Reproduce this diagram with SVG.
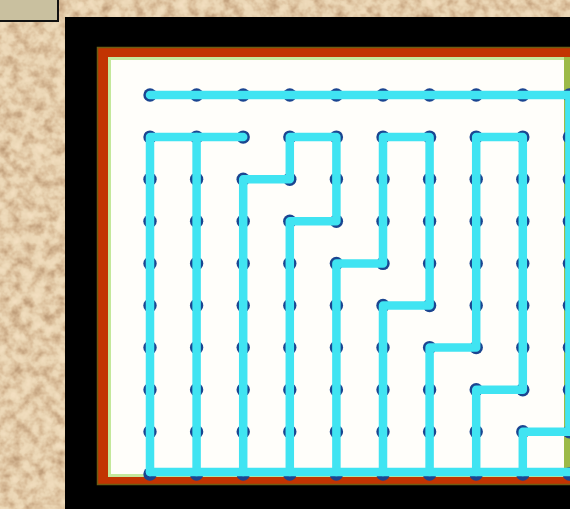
<svg xmlns="http://www.w3.org/2000/svg" width="570" height="509" viewBox="0 0 570 509">
  <defs>
    <filter id="sand" x="0" y="0" width="100%" height="100%" color-interpolation-filters="sRGB">
      <feTurbulence type="fractalNoise" baseFrequency="0.09" numOctaves="3" seed="7" result="n"/>
      <feColorMatrix in="n" type="matrix" values="1 0 0 0 0  1 0 0 0 0  1 0 0 0 0  0 0 0 0 1" result="g"/>
      <feComponentTransfer in="g">
        <feFuncR type="table" tableValues="0.70 0.77 0.86 0.92 0.95 0.97"/>
        <feFuncG type="table" tableValues="0.57 0.64 0.75 0.84 0.87 0.89"/>
        <feFuncB type="table" tableValues="0.43 0.50 0.61 0.71 0.75 0.78"/>
      </feComponentTransfer>
    </filter>
    <style>
      .wire { fill: none; stroke: #40e4f2; stroke-width: 8.5; stroke-linecap: round; stroke-linejoin: round; }
      .dot { fill: #1b4590; }
    </style>
  </defs>

  <!-- sand background -->
  <rect x="0" y="0" width="570" height="509" fill="#e6cfae" filter="url(#sand)"/>

  <!-- small khaki box at top-left -->
  <g id="corner-box">
    <rect x="-2" y="-2" width="60" height="23" fill="#c9c09f" stroke="#111" stroke-width="2"/>
  </g>

  <!-- board -->
  <g id="board">
    <rect x="65" y="17" width="505" height="492" fill="#000"/>
    <rect x="97.5" y="47.5" width="485" height="437" fill="#c23402" stroke="#6e5c12" stroke-width="1.5"/>
    <rect x="108" y="57" width="465" height="420" fill="#c4e89c"/>
    <rect x="564" y="57" width="10" height="420" fill="#9cba48"/>
    <rect x="111" y="60" width="453" height="414" fill="#fffefa"/>
  </g>

  <!-- grid dots -->
  <g id="dots">
    <g class="dot">
      <circle cx="150" cy="95" r="6.7"/><circle cx="196.6" cy="95" r="6.7"/><circle cx="243.2" cy="95" r="6.7"/><circle cx="289.8" cy="95" r="6.7"/><circle cx="336.4" cy="95" r="6.7"/><circle cx="383" cy="95" r="6.7"/><circle cx="429.6" cy="95" r="6.7"/><circle cx="476.2" cy="95" r="6.7"/><circle cx="522.8" cy="95" r="6.7"/><circle cx="569.4" cy="95" r="6.7"/>
      <circle cx="150" cy="137.1" r="6.7"/><circle cx="196.6" cy="137.1" r="6.7"/><circle cx="243.2" cy="137.1" r="6.7"/><circle cx="289.8" cy="137.1" r="6.7"/><circle cx="336.4" cy="137.1" r="6.7"/><circle cx="383" cy="137.1" r="6.7"/><circle cx="429.6" cy="137.1" r="6.7"/><circle cx="476.2" cy="137.1" r="6.7"/><circle cx="522.8" cy="137.1" r="6.7"/><circle cx="569.4" cy="137.1" r="6.7"/>
      <circle cx="150" cy="179.2" r="6.7"/><circle cx="196.6" cy="179.2" r="6.7"/><circle cx="243.2" cy="179.2" r="6.7"/><circle cx="289.8" cy="179.2" r="6.7"/><circle cx="336.4" cy="179.2" r="6.7"/><circle cx="383" cy="179.2" r="6.7"/><circle cx="429.6" cy="179.2" r="6.7"/><circle cx="476.2" cy="179.2" r="6.7"/><circle cx="522.8" cy="179.2" r="6.7"/><circle cx="569.4" cy="179.2" r="6.7"/>
      <circle cx="150" cy="221.3" r="6.7"/><circle cx="196.6" cy="221.3" r="6.7"/><circle cx="243.2" cy="221.3" r="6.7"/><circle cx="289.8" cy="221.3" r="6.7"/><circle cx="336.4" cy="221.3" r="6.7"/><circle cx="383" cy="221.3" r="6.7"/><circle cx="429.6" cy="221.3" r="6.7"/><circle cx="476.2" cy="221.3" r="6.7"/><circle cx="522.8" cy="221.3" r="6.7"/><circle cx="569.4" cy="221.3" r="6.7"/>
      <circle cx="150" cy="263.4" r="6.7"/><circle cx="196.6" cy="263.4" r="6.7"/><circle cx="243.2" cy="263.4" r="6.7"/><circle cx="289.8" cy="263.4" r="6.7"/><circle cx="336.4" cy="263.4" r="6.7"/><circle cx="383" cy="263.4" r="6.7"/><circle cx="429.6" cy="263.4" r="6.7"/><circle cx="476.2" cy="263.4" r="6.7"/><circle cx="522.8" cy="263.4" r="6.7"/><circle cx="569.4" cy="263.4" r="6.7"/>
      <circle cx="150" cy="305.5" r="6.7"/><circle cx="196.6" cy="305.5" r="6.7"/><circle cx="243.2" cy="305.5" r="6.7"/><circle cx="289.8" cy="305.5" r="6.7"/><circle cx="336.4" cy="305.5" r="6.7"/><circle cx="383" cy="305.5" r="6.7"/><circle cx="429.6" cy="305.5" r="6.7"/><circle cx="476.2" cy="305.5" r="6.7"/><circle cx="522.8" cy="305.5" r="6.7"/><circle cx="569.4" cy="305.5" r="6.7"/>
      <circle cx="150" cy="347.6" r="6.7"/><circle cx="196.6" cy="347.6" r="6.7"/><circle cx="243.2" cy="347.6" r="6.7"/><circle cx="289.8" cy="347.6" r="6.7"/><circle cx="336.4" cy="347.6" r="6.7"/><circle cx="383" cy="347.6" r="6.7"/><circle cx="429.6" cy="347.6" r="6.7"/><circle cx="476.2" cy="347.6" r="6.7"/><circle cx="522.8" cy="347.6" r="6.7"/><circle cx="569.4" cy="347.6" r="6.7"/>
      <circle cx="150" cy="389.7" r="6.7"/><circle cx="196.6" cy="389.7" r="6.7"/><circle cx="243.2" cy="389.7" r="6.7"/><circle cx="289.8" cy="389.7" r="6.7"/><circle cx="336.4" cy="389.7" r="6.7"/><circle cx="383" cy="389.7" r="6.7"/><circle cx="429.6" cy="389.7" r="6.7"/><circle cx="476.2" cy="389.7" r="6.7"/><circle cx="522.8" cy="389.7" r="6.7"/><circle cx="569.4" cy="389.7" r="6.7"/>
      <circle cx="150" cy="431.8" r="6.7"/><circle cx="196.6" cy="431.8" r="6.7"/><circle cx="243.2" cy="431.8" r="6.7"/><circle cx="289.8" cy="431.8" r="6.7"/><circle cx="336.4" cy="431.8" r="6.7"/><circle cx="383" cy="431.8" r="6.7"/><circle cx="429.6" cy="431.8" r="6.7"/><circle cx="476.2" cy="431.8" r="6.7"/><circle cx="522.8" cy="431.8" r="6.7"/><circle cx="569.4" cy="431.8" r="6.7"/>
      <circle cx="150" cy="474" r="6.7"/><circle cx="196.6" cy="474" r="6.7"/><circle cx="243.2" cy="474" r="6.7"/><circle cx="289.8" cy="474" r="6.7"/><circle cx="336.4" cy="474" r="6.7"/><circle cx="383" cy="474" r="6.7"/><circle cx="429.6" cy="474" r="6.7"/><circle cx="476.2" cy="474" r="6.7"/><circle cx="522.8" cy="474" r="6.7"/><circle cx="569.4" cy="474" r="6.7"/>
    </g>
  </g>

  <!-- cyan path -->
  <g id="connectors" class="wire">
    <polyline points="150,95 569.4,95 569.4,431.8 522.8,431.8 522.8,472"/>
    <polyline points="243.2,137.1 150,137.1 150,472"/>
    <polyline points="196.6,137.1 196.6,472"/>
    <polyline points="150,472 572,472"/>
    <polyline points="243.2,472 243.2,179.2 289.8,179.2 289.8,137.1 336.4,137.1 336.4,221.3 289.8,221.3 289.8,472"/>
    <polyline points="336.4,472 336.4,263.4 383,263.4 383,137.1 429.6,137.1 429.6,305.5 383,305.5 383,472"/>
    <polyline points="429.6,472 429.6,347.6 476.2,347.6 476.2,137.1 522.8,137.1 522.8,389.7 476.2,389.7 476.2,472"/>
  </g>
</svg>
